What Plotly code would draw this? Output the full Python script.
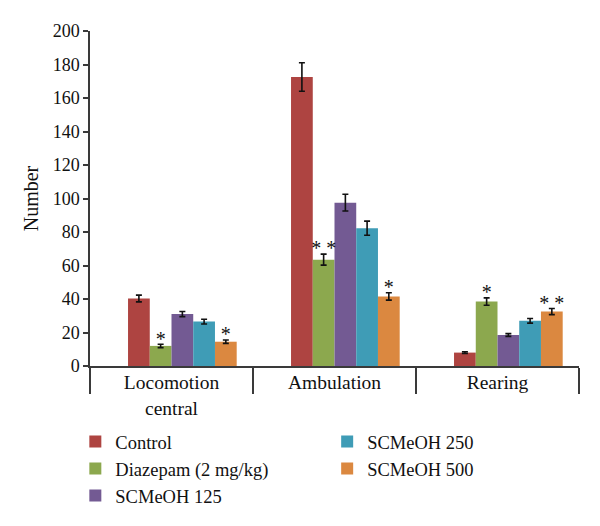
import plotly.graph_objects as go

categories = ["Locomotion<br>central", "Ambulation", "Rearing"]
series_names = ["Control", "Diazepam (2 mg/kg)", "SCMeOH 125", "SCMeOH 250", "SCMeOH 500"]

control = [40.3, 172.5, 8.0]
control_err = [2.0, 8.5, 0.5]
diazepam = [12.0, 63.5, 38.5]
diazepam_err = [1.0, 3.3, 2.2]
sc125 = [31.0, 97.5, 18.5]
sc125_err = [1.5, 5.0, 0.8]
sc250 = [26.5, 82.3, 27.0]
sc250_err = [1.4, 4.2, 1.4]
sc500 = [14.5, 41.5, 32.5]
sc500_err = [1.0, 2.2, 1.8]

stars_control = ["", "", ""]
stars_diazepam = ["*", "* *", "*"]
stars_125 = ["", "", ""]
stars_250 = ["", "", ""]
stars_500 = ["*", "*", "* *"]

colors = ["#AE4441", "#8CA84E", "#735A93", "#3F9CB6", "#DB8840"]

values = [control, diazepam, sc125, sc250, sc500]
errors = [control_err, diazepam_err, sc125_err, sc250_err, sc500_err]
stars = [stars_control, stars_diazepam, stars_125, stars_250, stars_500]
legends = ["legend", "legend", "legend", "legend2", "legend2"]

STAR_PAD = 2.2  # gap between error-bar cap and asterisk, in axis units

FONT = "Liberation Serif"
fig = go.Figure()

# empty leading slot (the original chart leaves one empty series slot on the left)
fig.add_trace(go.Bar(x=categories, y=[None] * 3, showlegend=False, hoverinfo="skip",
                     marker_color="rgba(0,0,0,0)"))
for name, v, e, c, lg in zip(series_names, values, errors, colors, legends):
    fig.add_trace(go.Bar(
        x=categories, y=v, name=name, marker=dict(color=c, line=dict(width=0)),
        error_y=dict(type="data", array=e, color="#111111", thickness=1.6, width=3),
        legend=lg,
    ))

# asterisk markers aligned with bar slots
fig.add_trace(go.Scatter(x=categories, y=[None] * 3, mode="text", text=["", "", ""],
                         showlegend=False, hoverinfo="skip"))
for v, e, s in zip(values, errors, stars):
    fig.add_trace(go.Scatter(
        x=categories, y=[a + b + STAR_PAD for a, b in zip(v, e)], mode="text", text=s,
        textposition="middle center", textfont=dict(family=FONT, size=20, color="#111111"),
        showlegend=False, hoverinfo="skip", cliponaxis=False,
    ))

axis_color = "#3a3a3a"
fig.update_layout(
    width=600, height=526,
    margin=dict(l=82, r=29, t=23, b=168),
    paper_bgcolor="white", plot_bgcolor="white",
    barmode="group", bargap=0.2, bargroupgap=0,
    scattermode="group", scattergap=0.2,
    font=dict(family=FONT, size=18, color="#111111"),
    xaxis=dict(
        type="category", showline=True, linecolor=axis_color, linewidth=1.5,
        ticks="outside", tickson="boundaries", ticklen=26, tickcolor=axis_color, tickwidth=1.5,
        ticklabelstandoff=-2, showgrid=False, tickfont=dict(size=19.5),
    ),
    yaxis=dict(
        range=[0, 200], dtick=20, showline=True, linecolor=axis_color, linewidth=1.5,
        ticks="outside", ticklen=5, tickcolor=axis_color, tickwidth=1.5, showgrid=False,
        zeroline=False, tickfont=dict(size=18),
        title=dict(text="Number", font=dict(size=20), standoff=9),
    ),
    legend=dict(x=-0.03, y=-0.17, xanchor="left", yanchor="top", orientation="v",
                font=dict(size=18.5), itemwidth=30, tracegroupgap=0),
    legend2=dict(x=0.485, y=-0.17, xanchor="left", yanchor="top", orientation="v",
                 font=dict(size=18.5), itemwidth=30, tracegroupgap=0),
    showlegend=True,
)

fig.write_html("out.html")
